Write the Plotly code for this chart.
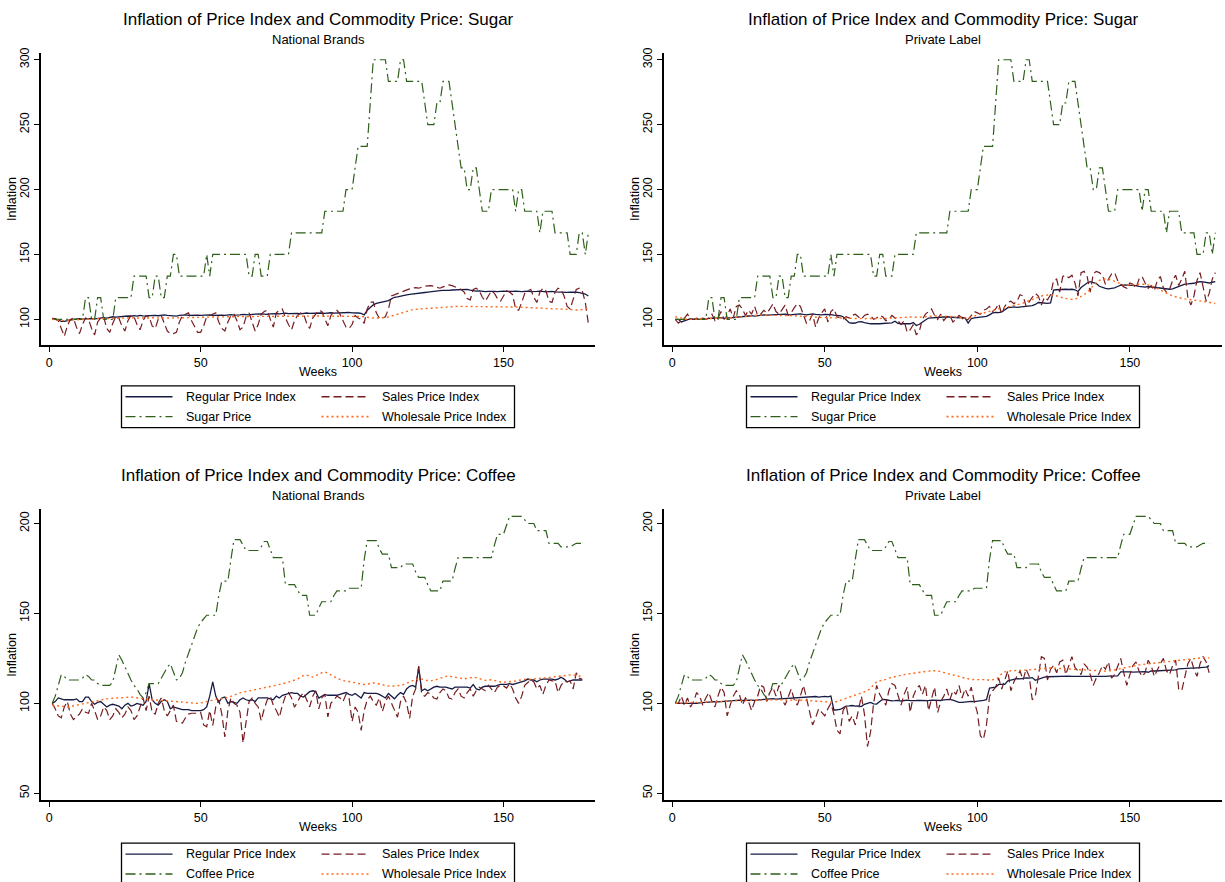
import plotly.graph_objects as go

# ---------------------------------------------------------------- data
WEEKS_SUGAR = list(range(1, 179))
WEEKS_COFFEE = list(range(1, 177))
X_TICKS = [0, 50, 100, 150]
SUGAR_Y_TICKS = [100, 150, 200, 250, 300]
COFFEE_Y_TICKS = [50, 100, 150, 200]

SUGAR_PRICE = [
    100, 100, 100, 100, 100, 100, 100, 100, 100, 100,
    100, 116.7, 116.7, 100, 100, 116.7, 116.7, 100, 100, 100,
    100, 116.7, 116.7, 116.7, 116.7, 116.7, 116.7, 133.3, 133.3, 133.3,
    133.3, 133.3, 116.7, 116.7, 133.3, 133.3, 116.7, 116.7, 133.3, 133.3,
    150, 150, 133.3, 133.3, 133.3, 133.3, 133.3, 133.3, 133.3, 133.3,
    133.3, 150, 133.3, 150, 150, 150, 150, 150, 150, 150,
    150, 150, 150, 150, 150, 133.3, 133.3, 150, 150, 133.3,
    133.3, 133.3, 150, 150, 150, 150, 150, 150, 150, 166.7,
    166.7, 166.7, 166.7, 166.7, 166.7, 166.7, 166.7, 166.7, 166.7, 166.7,
    183.3, 183.3, 183.3, 183.3, 183.3, 183.3, 183.3, 200, 200, 200,
    216.7, 233.3, 233.3, 233.3, 233.3, 266.7, 300, 300, 300, 300,
    300, 283.3, 283.3, 283.3, 283.3, 300, 300, 283.3, 283.3, 283.3,
    283.3, 283.3, 283.3, 266.7, 250, 250, 250, 266.7, 266.7, 283.3,
    283.3, 283.3, 266.7, 250, 233.3, 216.7, 216.7, 200, 200, 216.7,
    216.7, 200, 183.3, 183.3, 183.3, 200, 200, 200, 200, 200,
    200, 200, 200, 183.3, 200, 200, 183.3, 183.3, 183.3, 183.3,
    183.3, 166.7, 183.3, 183.3, 183.3, 183.3, 166.7, 166.7, 166.7, 166.7,
    166.7, 150, 150, 150, 166.7, 166.7, 150, 166.7,
]

COFFEE_PRICE = [
    100, 104, 110, 116, 115, 113, 113, 113, 113, 113,
    114, 116, 115, 113, 113, 111, 110, 110, 110, 110,
    112, 119, 127, 124, 120, 116, 113, 110, 108, 105,
    103, 106, 111, 111, 111, 111, 114, 117, 120, 122,
    118, 113, 114, 117, 123, 128, 133, 138, 142, 145,
    147, 149, 149, 149, 149, 160, 168, 168, 168, 180,
    191, 191, 191, 188, 185, 185, 185, 185, 185, 187,
    190, 190, 186, 181, 181, 181, 181, 166, 166, 166,
    166, 163, 160, 160, 160, 149, 149, 149, 153, 156.5,
    156.5, 156.5, 156.5, 160, 162.5, 162.5, 162.5, 162.5, 164, 164,
    164, 164, 164, 180, 190.5, 190.5, 190.5, 190.5, 186, 183,
    183, 183, 175.5, 175.5, 175.5, 175.5, 177.5, 177.5, 177.5, 177.5,
    173, 170, 170, 170, 166, 162.5, 162.5, 162.5, 162.5, 168,
    168, 168, 168, 175, 181, 181, 181, 181, 181, 181,
    181, 181, 181, 181, 181, 181, 188, 194, 194, 194,
    199, 204, 204, 204, 204, 204, 202, 200, 200, 200,
    196, 196, 196, 196, 189, 189, 189, 189, 187, 187,
    187, 187, 188, 189, 189, 189,
]

# Sugar, national brands
SUGAR_NB_REGULAR = [
    100, 100.5, 99.5, 98.5, 98.5, 98.8, 99.5, 100, 100.3, 100.5,
    100.2, 100.5, 100.8, 100.6, 100.3, 100.7, 101, 101.3, 101, 101.5,
    102, 101.7, 102, 102.5, 102.3, 102.6, 102.4, 102.8, 102.5, 103,
    102.7, 102.5, 102.9, 103.2, 103, 102.8, 103.3, 103.5, 103.1, 103,
    102.8, 102.5, 103, 103.3, 103.4, 103.1, 103.2, 103.5, 103.3, 103,
    103.2, 103.6, 103.4, 103.1, 103.3, 103.5, 103.2, 103, 103.4, 103.6,
    103.3, 103.2, 103.5, 103.8, 103.6, 103.4, 103.9, 104.2, 104, 104.3,
    104.1, 103.9, 104.3, 104.6, 104.4, 104.2, 104.5, 104.8, 104.4, 104.6,
    104.8, 104.5, 104.3, 104.7, 104.9, 104.6, 104.8, 105, 104.7, 104.9,
    104.6, 104.9, 105.1, 104.8, 105, 105.2, 104.9, 105.1, 105.3, 105,
    105.2, 104.9, 104.6, 103.5, 107, 109.5, 111.2, 112.3, 112.8, 113.2,
    113.5, 114.5, 115.8, 117, 117.4, 118, 118.3, 118.8, 119.2, 119.6,
    119.8, 120.2, 120.5, 120.7, 121, 121.4, 121.8, 122, 122.1, 122.3,
    122.2, 122.4, 122.6, 122.8, 123, 123.2, 123.4, 123.1, 122.5, 122,
    121.8, 122, 121.6, 121.4, 121.5, 121.8, 121.6, 121.4, 121.7, 121.8,
    121.5, 121.3, 121.6, 121.8, 121.5, 121.3, 121.6, 121.8, 121.4, 121.2,
    121.5, 121.7, 121.3, 121.1, 121.4, 121.6, 121.2, 121, 121.3, 121.1,
    120.8, 121, 121.2, 120.9, 120.6, 120.2, 119.5, 118,
]
SUGAR_NB_SALES = [
    101, 100, 99, 93, 87, 95, 100, 101, 94, 89,
    96, 101, 100, 93, 88, 98, 101, 102, 93, 90,
    97, 102, 101, 95, 91, 99, 103, 102, 96, 92,
    99, 103, 102, 95, 93, 100, 103, 97, 91, 89,
    89, 90, 98, 103, 104, 105, 99, 94, 90, 90,
    95, 102, 103, 104, 105, 98, 93, 91, 98, 103,
    104, 99, 92, 94, 102, 105, 98, 91, 96, 104,
    106, 107, 100, 94, 105, 107, 108, 101, 96, 92,
    99, 103, 105, 104, 97, 93, 101, 104, 107, 106,
    100, 95, 103, 106, 107, 104, 99, 94, 93, 96,
    103, 101, 100, 97, 108, 113, 113.5, 105, 101, 101,
    102, 108, 118, 119, 119.5, 121, 122, 123, 123.5, 124,
    124.5, 124, 125, 125.5, 125.8, 126, 125.5, 125, 124, 125,
    126, 126.5, 126, 125, 124.5, 123, 121, 116, 115, 123,
    124, 122, 117, 114, 118, 122, 120, 116, 114, 118,
    122, 121, 119, 108, 107, 113, 120, 122, 123, 117,
    113, 121, 124, 122, 114, 113, 121, 124, 123, 118,
    110, 108, 116, 123, 124, 122, 113, 97,
]
SUGAR_NB_WHOLESALE = [
    100, 99.5, 99, 99, 99, 99.3, 99.5, 99.5, 99.7, 99.8,
    100, 100, 100.2, 100.3, 100.3, 100.5, 100.5, 100.6, 100.7, 100.8,
    100.8, 101, 101, 101.2, 101.2, 101.3, 101.3, 101.2, 101.1, 101,
    101, 101, 101.1, 101.2, 101.3, 101.3, 101.2, 101.1, 101, 101,
    101, 101.1, 101.2, 101.3, 101.3, 101.4, 101.4, 101.5, 101.5, 101.6,
    101.6, 101.7, 101.8, 101.8, 101.8, 101.7, 101.7, 101.8, 101.9, 102,
    102, 102.1, 102.2, 102.2, 102.2, 102.1, 102, 102, 102.1, 102.2,
    102.3, 102.3, 102.4, 102.4, 102.3, 102.2, 102.2, 102.3, 102.4, 102.5,
    102.5, 102.4, 102.3, 102.3, 102.4, 102.5, 102.5, 102.6, 102.6, 102.5,
    102.5, 102.4, 102.4, 102.5, 102.6, 102.6, 102.5, 102.4, 102.4, 102.5,
    102.4, 102.3, 102.2, 102, 101.5, 101, 101, 101, 101, 101.2,
    101.3, 101.8, 102.5, 103.3, 104.2, 105, 105.8, 106.5, 107, 107.5,
    107.8, 108, 108.2, 108.4, 108.6, 108.8, 109, 109.2, 109.4, 109.5,
    109.6, 109.7, 109.8, 109.9, 110, 110, 110, 110, 110, 110,
    110, 109.9, 109.8, 109.8, 109.7, 109.7, 109.6, 109.6, 109.5, 109.5,
    109.6, 109.7, 109.6, 109.5, 109.4, 109.3, 109.3, 109.2, 109.2, 109.1,
    109.1, 109, 109, 108.9, 108.8, 108.7, 108.6, 108.5, 108.4, 108.2,
    108, 107.6, 107.2, 107, 107.2, 107.6, 108, 108.2,
]

# Sugar, private label
SUGAR_PL_REGULAR = [
    100, 100, 98, 99, 100, 100.5, 100, 99.8, 100, 100.2,
    100.5, 100.8, 101, 100.7, 101, 101.3, 100.8, 101, 101.4, 101.8,
    102, 102.3, 102.5, 102.2, 102.6, 102.8, 102.5, 103, 103.3, 103.5,
    103.2, 103.4, 103.6, 103.3, 103.5, 103.8, 104, 103.6, 103.4, 103.8,
    104, 104.2, 103.8, 103.5, 103.9, 104.2, 103.8, 103.6, 103.4, 103.8,
    104, 103.7, 103.2, 103, 102.8, 102, 99.5, 97.5, 97, 97.2,
    98, 98.3, 97.5, 96.8, 96.6, 96.7, 96.5, 96.6, 96.8, 97,
    97.2, 97.3, 98.6, 97, 96.6, 96.5, 96.5, 96.6, 97.5, 95.2,
    96.2, 98.2, 99.5, 101, 101.2, 101.5, 101.3, 101.6, 101.8, 102,
    101.8, 101.5, 101.3, 101.2, 101.5, 101, 97.2, 100.5, 101.2, 101.5,
    101.4, 101.8, 102.3, 103.5, 105, 105.4, 105.2, 105.7, 107.5, 109,
    109.3, 109.6, 109.2, 109.5, 110, 110.3, 110.1, 110.6, 111.5, 113,
    112.8, 112.5, 112.3, 112.6, 122.5, 122.8, 123.1, 122.9, 123.2, 123,
    123.2, 122.8, 121.5, 124.5, 126.5, 128, 129, 128.5, 127.6, 125.5,
    124.5, 123.8, 123.5, 123.6, 124.2, 125.3, 126.3, 126.6, 126.5, 126.4,
    126.2, 126, 125.4, 125.2, 124.8, 125.3, 125, 124.6, 124.1, 123.8,
    123.6, 123.3, 123.2, 123.5, 124.4, 125.4, 126.8, 127.2, 127.3, 127.5,
    127.8, 128.6, 129, 128.8, 128.4, 128, 128.6, 129,
]
SUGAR_PL_SALES = [
    100, 97, 99, 101, 104, 100, 100, 101, 100, 101,
    100, 101, 104, 99, 101, 106, 100, 103, 108, 101,
    110, 111, 108, 103, 107, 104, 110, 103, 104, 107,
    105, 108, 112, 106, 104, 108, 111, 103, 105, 109,
    112, 110, 103, 97, 99, 104, 94, 101, 105, 108,
    98, 106, 108, 102, 101, 100, 102, 101, 103, 104,
    102, 100, 103, 104, 103, 100, 101, 103, 102, 99,
    100, 103, 101, 99, 96, 99, 90, 92, 96, 88,
    91, 100, 104, 106, 108, 103, 100, 104, 99, 102,
    103, 98, 100, 103, 101, 99, 100, 103, 106, 105,
    104, 107, 108, 110, 106, 108, 112, 104, 110, 113,
    114, 112, 114, 119, 118, 110, 114, 117, 120, 118,
    111, 117, 115, 119, 130, 131, 121, 133, 134, 132,
    134, 128, 118, 136, 137, 133, 121, 135, 137, 136,
    134, 127, 131, 135, 136, 130, 127, 125, 124, 128,
    127, 124, 131, 133, 128, 124, 126, 122, 130, 133,
    124, 121, 123, 130, 134, 126, 131, 137, 117, 111,
    118, 130, 136, 124, 114, 120, 131, 136,
]
SUGAR_PL_WHOLESALE = [
    102, 101.5, 100.8, 100.3, 100, 100, 100, 100.2, 100.3, 100.4,
    100.5, 100.6, 100.7, 100.7, 100.6, 100.5, 100.6, 100.8, 101, 101.3,
    101.6, 101.9, 102.2, 102.5, 102.8, 103, 103.1, 103.2, 103.3, 103.3,
    103.2, 103.1, 103, 103, 103.1, 103.2, 103.3, 103.2, 103, 102.8,
    102.6, 102.4, 102.2, 102, 101.8, 101.6, 101.5, 101.4, 101.4, 101.3,
    101.3, 101.2, 101.2, 101.1, 101, 100.9, 100.8, 100.6, 100.5, 100.4,
    100.4, 100.4, 100.5, 100.6, 100.6, 100.5, 100.4, 100.4, 100.5, 100.6,
    100.8, 101, 101.2, 101.4, 101.5, 101.6, 101.8, 101.8, 101.6, 101.5,
    101.6, 101.8, 102, 102.3, 102.5, 102.7, 102.8, 102.7, 102.5, 102.3,
    102.2, 102.1, 102, 101.8, 101.5, 101.2, 101, 101.5, 102.5, 103.5,
    104.3, 104.8, 105.3, 106, 106.8, 107.5, 108, 108.5, 109, 109.5,
    110, 110.5, 111, 111.8, 112.6, 113.5, 114.5, 115.5, 116.5, 117.3,
    118, 118.5, 118.8, 119, 118.7, 118.2, 117.4, 116.6, 116, 115.6,
    115.4, 115.6, 116.4, 117.5, 119, 121, 123.5, 126, 128.3, 130,
    131, 131.3, 131, 130.3, 129.3, 128.3, 127.3, 126.6, 126.3, 126.3,
    126.5, 126.8, 127, 127.1, 127, 126.6, 126, 125, 123.8, 122.5,
    121.2, 120, 119, 118, 117.2, 116.6, 116.2, 115.8, 115.5, 115.2,
    115, 114.8, 114.6, 114.3, 113.8, 113.2, 112.6, 112.2,
]

# Coffee, national brands
COFFEE_NB_REGULAR = [
    100, 101, 103, 102.5, 102, 102, 102, 102, 102.5, 101,
    101, 103.5, 103.5, 101, 99.5, 100.5, 101, 99.5, 98, 99,
    99.5, 99, 98.5, 97, 99, 100, 98.5, 99, 100, 99.5,
    99, 101, 111, 102, 100, 99, 101, 102, 101, 97,
    98, 97.5, 97, 96.5, 96.5, 96.5, 96, 96, 96, 96,
    96.5, 98, 104, 112, 104, 100.5, 103, 103.5, 100, 101,
    100.5, 100, 102, 103, 102, 101.5, 102, 101, 103, 103,
    103, 103, 102.5, 102, 104, 103, 104.5, 105, 105.5, 106,
    105.5, 105.5, 104, 103.5, 105, 106.5, 107, 106.5, 103, 104,
    105, 104.5, 104.5, 104.5, 104.5, 105, 105.5, 106, 105, 104.5,
    105.5, 104, 103, 106, 105.5, 105.5, 105.5, 105.5, 105, 104,
    103, 105.5, 104, 102.5, 104.5, 106, 105, 108, 109.5, 110,
    109, 120, 107, 108, 107, 108, 109, 109.5, 109, 109,
    109, 108.5, 108, 109, 109, 109, 109, 109, 108.5, 110.5,
    108, 107.5, 109, 109.5, 109.5, 109.5, 109.5, 110, 110.5, 110.5,
    110.5, 111, 110.5, 111, 111.5, 112, 112.5, 113.5, 113, 113,
    112, 113, 113.5, 113.5, 113.5, 113.5, 113, 113.5, 114.5, 113.5,
    112, 112.5, 113, 113, 113, 113,
]
COFFEE_NB_SALES = [
    100, 97, 93, 92, 98, 101, 94, 91, 92.5, 94,
    97, 95, 94.5, 100, 96, 91, 93, 98, 96, 91,
    93, 97, 95, 92, 94, 98, 96, 91, 93, 98,
    103, 96, 104, 95, 94, 100, 103, 96, 93, 96,
    99, 90, 89.5, 89, 92, 94, 94.5, 94.5, 94.5, 95,
    88, 87, 96, 87.7, 98, 102, 94, 81.3, 96, 103,
    100, 99, 95, 78, 90, 101, 103, 100, 98, 90.4,
    97, 102, 104, 99, 96, 92.3, 99, 104, 106, 103,
    97.8, 101, 104, 106, 102, 98, 104, 107, 96.9, 103,
    105, 92.5, 100, 102, 104, 103, 101, 105, 103, 89.9,
    98, 95, 85, 96, 102, 104, 101, 99, 103, 95.4,
    101, 104, 100, 97, 92.3, 101, 104, 100, 91.7, 104,
    108, 120.7, 105, 104, 106, 105, 103, 102.4, 106, 108,
    107, 103, 102.4, 106, 108, 104, 103, 106, 108, 104,
    107, 109, 108, 107, 110, 108, 106, 109, 110, 109.7,
    108.5, 111, 108, 103, 100, 104, 110, 111.6, 113, 112,
    108, 110, 105, 110, 113, 112.5, 112.5, 106, 110, 112.3,
    112, 112.5, 108, 117, 114, 113.4,
]
COFFEE_NB_WHOLESALE = [
    99, 98.8, 98.5, 98.3, 98, 98, 98.2, 98.5, 98.8, 99.2,
    99.6, 100, 100.4, 100.8, 101.2, 101.6, 102, 102.3, 102.5, 102.7,
    102.8, 103, 103.2, 103.3, 103.5, 103.6, 103.5, 103.3, 103, 102.8,
    102.5, 102.3, 102.2, 102, 101.9, 101.8, 101.7, 101.6, 101.5, 101.5,
    101.4, 101.2, 101, 100.8, 100.6, 100.4, 100.2, 100, 100, 100.2,
    100.6, 101.2, 101.6, 102, 102.2, 102.3, 102.5, 102.8, 103.3, 103.9,
    104.6, 105.3, 105.8, 106.2, 106.6, 107, 107.4, 107.8, 108.2, 108.5,
    108.8, 109.1, 109.4, 109.7, 110, 110.4, 110.8, 111.3, 111.8, 112.3,
    112.8, 113.5, 114.5, 115.5, 115.7, 115, 114.6, 115.3, 116.2, 117,
    117.5, 116.8, 116, 115, 114, 113.2, 112.7, 112.4, 112.2, 112,
    111.5, 111, 110.6, 110.5, 110.7, 111, 111.4, 111.2, 110.8, 110.3,
    109.8, 109.6, 109.5, 109.6, 109.8, 110, 110.5, 111, 111.8, 112.6,
    113.3, 113.8, 113.5, 113, 112.6, 112.5, 112.8, 113.3, 113.9, 114.5,
    115, 115.1, 114.8, 114.3, 113.8, 113.5, 113.6, 113.9, 114.2, 114.5,
    114.3, 113.8, 113.2, 112.8, 112.9, 113.1, 112.7, 112.2, 111.9, 111.7,
    111.8, 112, 112.2, 112.4, 112.8, 113.2, 113.4, 113.3, 113.4, 113.6,
    113.8, 114, 114.2, 114.3, 114.2, 114.5, 114.8, 115.1, 115.4, 115.5,
    115.6, 115.8, 115.9, 115.6, 115.2, 114.8,
]

# Coffee, private label
COFFEE_PL_REGULAR = [
    100, 100, 100, 100, 100, 100, 99.8, 100, 100.3, 100.5,
    100.5, 100.6, 101, 101, 100.8, 101, 101.1, 101, 101.2, 101.4,
    101.6, 101.8, 101.6, 101.8, 102, 101.8, 101.7, 101.9, 102, 102.2,
    102.4, 102.5, 102.6, 102.4, 102.5, 102.7, 102.6, 102.8, 103, 103.1,
    103.3, 103, 103.2, 103.5, 103.3, 103.6, 103.8, 103.5, 103.7, 103.9,
    103.6, 104, 96.2, 96.3, 96.6, 97.5, 98.5, 98.6, 98.8, 98.5,
    98.6, 98.2, 99.5, 100, 100.5, 99.7, 99.6, 101, 102.2, 102,
    101.6, 101.4, 101.5, 101.7, 101.3, 101.6, 101.8, 101.5, 101.4, 101.6,
    101.7, 101.5, 101.3, 101.5, 101.8, 101.6, 101.4, 101.6, 101.9, 102,
    102.2, 101.8, 101.3, 100.5, 100.6, 100.9, 101, 101.1, 101, 101.1,
    101.3, 101.6, 102, 108.5, 108.8, 109, 110.5, 110.7, 110.5, 112.5,
    113, 113.5, 113.8, 113.6, 114, 114.2, 114, 114.3, 112.8, 113.5,
    114.3, 114.6, 114.8, 114.9, 115, 115.1, 115.2, 115.2, 115.2, 115.1,
    115, 115, 115, 114.8, 114.7, 114.6, 114.6, 114.6, 114.7, 114.8,
    114.9, 115, 115.1, 115.2, 115.3, 115.3, 117.5, 117.6, 117.6, 117.5,
    117.4, 117.5, 117.6, 117.7, 117.6, 117.3, 118, 118, 118.1, 118.3,
    118.5, 118.5, 118.6, 118.7, 118.6, 119.2, 119.4, 119.5, 119.5, 119.6,
    119.6, 119.7, 119.7, 119.8, 120.2, 121,
]
COFFEE_PL_SALES = [
    100, 100, 104, 99, 103, 98, 101, 106, 104, 99,
    103, 106, 101, 98, 104, 109, 106, 93, 99, 104,
    107, 105, 99, 103, 101, 96, 101, 104, 110, 109,
    101, 106, 109, 104, 110, 102, 99, 104, 108, 102,
    99, 104, 110, 103, 96, 88, 92, 97, 95, 93,
    97, 100, 94, 85, 83, 96, 99, 90, 93, 88,
    96, 104, 94, 76, 84, 100, 110, 105, 102, 99,
    107, 111, 110, 104, 99, 105, 109, 95, 104, 108,
    110, 105, 110, 96, 103, 109, 95, 101, 104, 108,
    102, 107, 105, 110, 103, 108, 104, 109, 101, 95,
    82, 80, 88, 104, 107, 109, 114, 108, 113, 118,
    107, 112, 115, 118, 113, 119, 115, 102, 104, 115,
    126, 125, 113, 119, 121, 117, 123, 124, 116, 121,
    126, 120, 118, 116, 122, 120, 116, 110, 114, 117,
    121, 119, 123, 114, 116, 120, 125, 117, 110, 116,
    121, 123, 118, 115, 117, 124, 121, 115, 119, 122,
    125, 118, 116, 121, 124, 108, 107, 115, 122, 125,
    119, 115, 122, 126, 123, 117,
]
COFFEE_PL_WHOLESALE = [
    100, 100, 100.2, 100.3, 100.3, 100.4, 100.5, 100.5, 100.6, 100.6,
    100.7, 100.7, 100.8, 100.8, 100.9, 101, 101, 101.1, 101.2, 101.3,
    101.4, 101.5, 101.5, 101.6, 101.6, 101.7, 101.7, 101.8, 101.8, 101.8,
    101.9, 101.9, 102, 102, 102, 102.1, 102.1, 102.1, 102, 102,
    101.9, 101.8, 101.7, 101.6, 101.5, 101.4, 101.3, 101.2, 101.1, 101,
    100.9, 100.8, 100.6, 101, 101.6, 102.2, 102.8, 103.3, 104, 104.8,
    105.4, 105.8, 106.2, 107, 108.5, 110.5, 112, 112.5, 112.8, 113.3,
    114, 114.5, 114.8, 115.2, 115.6, 116, 116.3, 116.6, 116.9, 117.1,
    117.3, 117.5, 117.7, 117.9, 118.1, 118.2, 118, 117.6, 117.3, 117,
    116.6, 116.2, 115.6, 115, 114.4, 113.9, 113.5, 113.3, 113.2, 113.3,
    113.4, 113.5, 113.2, 112.8, 113, 113.4, 114.5, 116.5, 117.5, 118,
    118.1, 118.2, 118.2, 118.3, 118.4, 118.5, 118.6, 118.8, 119, 119.3,
    119.5, 119.6, 119.7, 119.7, 119.6, 119.5, 119.4, 119.3, 119.2, 119.1,
    119, 118.9, 118.8, 118.7, 118.6, 118.4, 118.2, 118, 117.9, 117.8,
    117.8, 117.9, 118, 118.2, 118.5, 118.9, 119.3, 119.7, 120.1, 120.5,
    120.8, 121.1, 121.4, 121.6, 121.8, 122, 122.2, 122.4, 122.6, 122.8,
    123, 123.2, 123.4, 123.6, 123.8, 124, 124.3, 124.5, 124.7, 124.9,
    125, 125.1, 125.2, 125.2, 125.3, 125.3,
]

# ---------------------------------------------------------------- layout
W, H = 1225, 882
FONT = "Liberation Sans"

C_REG = "#161b45"
C_SALES = "#761c20"
C_PRICE = "#2f5f1b"
C_WHOLE = "#ff6a1a"
DASH_SALES = "8px,4px"
DASH_PRICE = "10px,4px,2px,4px"
DASH_WHOLE = "2px,3px"


def fx(px):
    return px / W


def fy(px):
    return 1 - px / H


PANELS = [
    dict(title="Inflation of Price Index and Commodity Price: Sugar",
         sub="National Brands", weeks=WEEKS_SUGAR,
         series=(SUGAR_NB_REGULAR, SUGAR_NB_SALES, SUGAR_PRICE, SUGAR_NB_WHOLESALE),
         price_name="Sugar Price", box=(41, 595, 48, 342), title_y=15,
         yrange=(80.2, 305.4), yticks=SUGAR_Y_TICKS, legend_top=383),
    dict(title="Inflation of Price Index and Commodity Price: Sugar",
         sub="Private Label", weeks=WEEKS_SUGAR,
         series=(SUGAR_PL_REGULAR, SUGAR_PL_SALES, SUGAR_PRICE, SUGAR_PL_WHOLESALE),
         price_name="Sugar Price", box=(664, 1222, 48, 342), title_y=15,
         yrange=(80.2, 305.4), yticks=SUGAR_Y_TICKS, legend_top=383),
    dict(title="Inflation of Price Index and Commodity Price: Coffee",
         sub="National Brands", weeks=WEEKS_COFFEE,
         series=(COFFEE_NB_REGULAR, COFFEE_NB_SALES, COFFEE_PRICE, COFFEE_NB_WHOLESALE),
         price_name="Coffee Price", box=(41, 595, 507, 800), title_y=473,
         yrange=(46, 208), yticks=COFFEE_Y_TICKS, legend_top=843),
    dict(title="Inflation of Price Index and Commodity Price: Coffee",
         sub="Private Label", weeks=WEEKS_COFFEE,
         series=(COFFEE_PL_REGULAR, COFFEE_PL_SALES, COFFEE_PRICE, COFFEE_PL_WHOLESALE),
         price_name="Coffee Price", box=(664, 1222, 507, 800), title_y=473,
         yrange=(46, 208), yticks=COFFEE_Y_TICKS, legend_top=843),
]

fig = go.Figure()
annotations = []
shapes = []
layout_axes = {}

for i, p in enumerate(PANELS, start=1):
    x0, x1, y0, y1 = p["box"]
    xa = "x" if i == 1 else f"x{i}"
    ya = "y" if i == 1 else f"y{i}"
    reg, sales, price, whole = p["series"]
    styles = [
        (reg, "Regular Price Index", C_REG, "solid", 1.3),
        (sales, "Sales Price Index", C_SALES, DASH_SALES, 1.2),
        (price, p["price_name"], C_PRICE, DASH_PRICE, 1.2),
        (whole, "Wholesale Price Index", C_WHOLE, DASH_WHOLE, 1.4),
    ]
    for vals, name, color, dash, width in styles:
        fig.add_trace(go.Scatter(
            x=p["weeks"], y=vals, name=name, mode="lines",
            line=dict(color=color, dash=dash, width=width),
            xaxis=xa, yaxis=ya, showlegend=False,
        ))

    axis_common = dict(
        showgrid=False, zeroline=False, showline=True, linecolor="black",
        linewidth=1.5, ticks="outside", ticklen=5, tickwidth=1.2,
        tickcolor="black", tickfont=dict(family=FONT, size=12.5, color="black"),
    )
    layout_axes["xaxis" if i == 1 else f"xaxis{i}"] = dict(
        axis_common, domain=[fx(x0), fx(x1)], range=[-2.7, 180.2],
        tickvals=X_TICKS, anchor=ya,
    )
    layout_axes["yaxis" if i == 1 else f"yaxis{i}"] = dict(
        axis_common, domain=[fy(y1), fy(y0)], range=list(p["yrange"]),
        tickvals=p["yticks"], tickangle=-90, anchor=xa,
    )

    cx = (x0 + x1) / 2
    ty = p["title_y"]
    annotations += [
        dict(text=p["title"], x=fx(cx), y=fy(ty), xref="paper", yref="paper",
             showarrow=False, xanchor="center", yanchor="middle",
             font=dict(family=FONT, size=17, color="black")),
        dict(text=p["sub"], x=fx(cx), y=fy(ty + 20), xref="paper", yref="paper",
             showarrow=False, xanchor="center", yanchor="middle",
             font=dict(family=FONT, size=13, color="black")),
        dict(text="Weeks", x=fx(cx), y=fy(y1 + 27), xref="paper", yref="paper",
             showarrow=False, xanchor="center", yanchor="middle",
             font=dict(family=FONT, size=12.5, color="black")),
        dict(text="Inflation", x=fx(x0 - 29), y=fy((y0 + y1) / 2),
             xref="paper", yref="paper", showarrow=False, textangle=-90,
             xanchor="center", yanchor="middle",
             font=dict(family=FONT, size=12.5, color="black")),
    ]

    # legend block: two columns, two rows, framed
    lx = cx - 196.5
    lt = p["legend_top"]
    shapes.append(dict(type="rect", xref="paper", yref="paper",
                       x0=fx(lx), x1=fx(lx + 393), y0=fy(lt), y1=fy(lt + 42),
                       line=dict(color="black", width=1.3), fillcolor="white"))
    entries = [
        (0, 11, "Regular Price Index", C_REG, "solid", 1.4),
        (1, 11, "Sales Price Index", C_SALES, DASH_SALES, 1.4),
        (0, 31, p["price_name"], C_PRICE, DASH_PRICE, 1.4),
        (1, 31, "Wholesale Price Index", C_WHOLE, DASH_WHOLE, 1.6),
    ]
    for col, dy, name, color, dash, width in entries:
        sx = lx + 4 + col * 196
        shapes.append(dict(type="line", xref="paper", yref="paper",
                           x0=fx(sx), x1=fx(sx + 47), y0=fy(lt + dy), y1=fy(lt + dy),
                           line=dict(color=color, dash=dash, width=width)))
        annotations.append(dict(text=name, x=fx(sx + 58), y=fy(lt + dy),
                                xref="paper", yref="paper", showarrow=False,
                                xanchor="left", yanchor="middle",
                                font=dict(family=FONT, size=12.5, color="black")))

fig.update_layout(
    width=W, height=H, margin=dict(l=0, r=0, t=0, b=0),
    paper_bgcolor="white", plot_bgcolor="white", showlegend=False,
    annotations=annotations, shapes=shapes, **layout_axes,
)

fig.write_html("out.html")
